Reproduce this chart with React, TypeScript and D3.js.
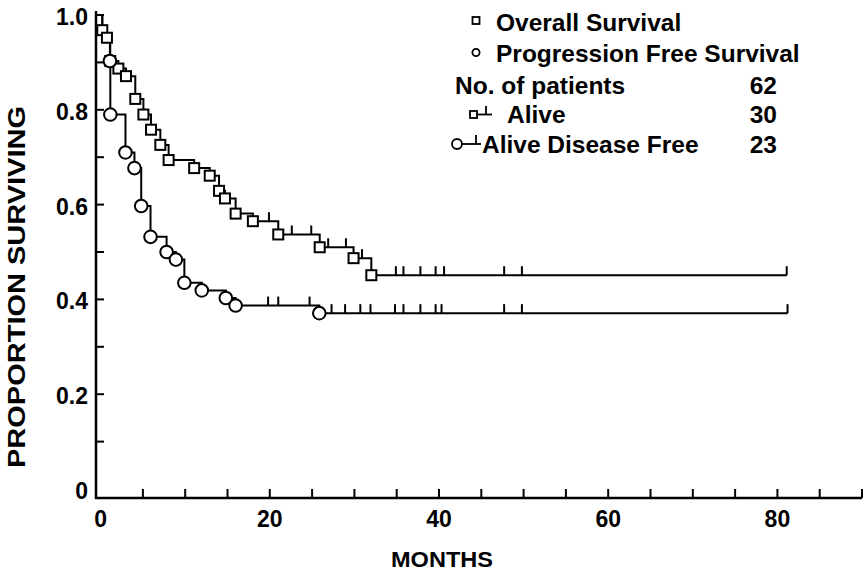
import * as d3 from "d3";

// Kaplan-Meier steps (months, proportion surviving after the step)
const osMonths = [0.2, 0.75, 1.14, 2.1, 3.0, 4.1, 5.06, 5.96, 7.06, 8.04, 11.06, 12.9, 14.0, 14.7, 15.96, 18.0, 21.0, 25.9, 29.9, 32.0];
const osSurvival = [0.968, 0.952, 0.903, 0.887, 0.871, 0.823, 0.79, 0.758, 0.726, 0.694, 0.677, 0.661, 0.629, 0.613, 0.581, 0.565, 0.537, 0.51, 0.487, 0.451];
const osCensored = [19.9, 22.6, 24.9, 26.9, 29.0, 30.9, 34.9, 35.8, 37.8, 39.6, 40.6, 47.7, 49.8, 81.1];

const pfsMonths = [0.2, 0.75, 1.1, 1.15, 2.94, 4.0, 4.8, 5.9, 7.8, 8.9, 9.9, 11.96, 14.8, 15.96, 25.85];
const pfsSurvival = [0.968, 0.952, 0.903, 0.79, 0.71, 0.677, 0.597, 0.532, 0.5, 0.484, 0.435, 0.419, 0.403, 0.387, 0.371];
const pfsMarked = [false, false, true, true, true, true, true, true, true, true, true, true, true, true, true];
const pfsCensored = [19.8, 21.0, 24.7, 27.3, 28.9, 30.7, 31.9, 34.8, 35.8, 37.8, 39.6, 40.3, 47.7, 49.8, 81.2];

const xTickLabels = [0, 20, 40, 60, 80];
const yTickLabels = [0, 0.2, 0.4, 0.6, 0.8, 1.0];

const legendCounts = [
  { label: "No. of patients", n: 62 },
  { label: "Alive", n: 30 },
  { label: "Alive Disease Free", n: 23 },
];

const W = 865;
const H = 574;
const FONT = "'Liberation Sans', Arial, Helvetica, sans-serif";

const x = d3.scaleLinear().domain([0, 90]).range([100.6, 862]);
const y = d3.scaleLinear().domain([0, 1]).range([489, 15]);
const axisY = 498;
const axisX = 96;

// survival value at time t for a step function
function survAt(months: number[], surv: number[], t: number) {
  let s = 1;
  months.forEach((m, i) => {
    if (m <= t) s = surv[i];
  });
  return s;
}

function stepPath(months: number[], surv: number[], end: number) {
  const pts: [number, number][] = [[0, 1]];
  months.forEach((m, i) => pts.push([m, surv[i]]));
  pts.push([end, surv[surv.length - 1]]);
  const line = d3
    .line<[number, number]>()
    .x((d) => x(d[0]))
    .y((d) => y(d[1]))
    .curve(d3.curveStepAfter);
  return line(pts) || "";
}

export default function App() {
  const osEnd = d3.max(osCensored) as number;
  const pfsEnd = d3.max(pfsCensored) as number;
  const sq = 10;

  return (
    <svg
      width={W}
      height={H}
      style={{ position: "absolute", left: 0, top: 0, background: "#fff" }}
      fontFamily={FONT}
      fontWeight="bold"
    >
      {/* axes */}
      <line x1={axisX} x2={axisX} y1={y(1) - 4} y2={axisY + 1} stroke="#000" strokeWidth={2.5} />
      <line x1={axisX - 1} x2={x(90)} y1={axisY} y2={axisY} stroke="#000" strokeWidth={2.5} />
      {d3.range(1, 11).map((i) => (
        <line key={"yt" + i} x1={axisX} x2={axisX + 8} y1={y(i / 10)} y2={y(i / 10)} stroke="#000" strokeWidth={2} />
      ))}
      {d3.range(5, 91, 5).map((m) => (
        <line key={"xt" + m} x1={x(m)} x2={x(m)} y1={axisY} y2={axisY - 9} stroke="#000" strokeWidth={2} />
      ))}
      {yTickLabels.map((v) => (
        <text key={"yl" + v} x={88} y={y(v) + 10} textAnchor="end" fontSize={23}>
          {v === 0 ? "0" : v.toFixed(1)}
        </text>
      ))}
      {xTickLabels.map((m) => (
        <text key={"xl" + m} x={x(m)} y={527} textAnchor="middle" fontSize={23}>
          {m}
        </text>
      ))}
      <text x={442} y={567} textAnchor="middle" fontSize={22} textLength={102} lengthAdjust="spacingAndGlyphs">
        MONTHS
      </text>
      <text
        transform={`translate(25,287) rotate(-90)`}
        textAnchor="middle"
        fontSize={23}
        textLength={362}
        lengthAdjust="spacingAndGlyphs"
      >
        PROPORTION SURVIVING
      </text>

      {/* curves */}
      <path d={stepPath(osMonths, osSurvival, osEnd)} fill="none" stroke="#000" strokeWidth={2} />
      <path d={stepPath(pfsMonths, pfsSurvival, pfsEnd)} fill="none" stroke="#000" strokeWidth={2} />

      {/* censor ticks */}
      {osCensored.map((m, i) => (
        <line key={"oc" + i} x1={x(m)} x2={x(m)} y1={y(survAt(osMonths, osSurvival, m))} y2={y(survAt(osMonths, osSurvival, m)) - 9} stroke="#000" strokeWidth={2} />
      ))}
      {pfsCensored.map((m, i) => (
        <line key={"pc" + i} x1={x(m)} x2={x(m)} y1={y(survAt(pfsMonths, pfsSurvival, m))} y2={y(survAt(pfsMonths, pfsSurvival, m)) - 9} stroke="#000" strokeWidth={2} />
      ))}

      {/* markers */}
      {osMonths.map((m, i) => (
        <rect key={"os" + i} x={x(m) - sq / 2} y={y(osSurvival[i]) - sq / 2} width={sq} height={sq} fill="#fff" stroke="#000" strokeWidth={2} />
      ))}
      {pfsMonths.map((m, i) =>
        pfsMarked[i] ? (
          <circle key={"pf" + i} cx={x(m)} cy={y(pfsSurvival[i])} r={6.3} fill="#fff" stroke="#000" strokeWidth={2} />
        ) : null
      )}

      {/* legend */}
      <rect x={472.5} y={17} width={7} height={7} fill="#fff" stroke="#000" strokeWidth={1.8} />
      <text x={496} y={30.5} fontSize={24.5}>Overall Survival</text>
      <circle cx={476} cy={52.5} r={3.6} fill="#fff" stroke="#000" strokeWidth={1.8} />
      <text x={496} y={62} fontSize={24.5}>Progression Free Survival</text>

      <text x={455} y={94} fontSize={24.5}>{legendCounts[0].label}</text>
      <text x={777} y={94} fontSize={24.5} textAnchor="end">{legendCounts[0].n}</text>

      <rect x={470} y={111} width={7} height={7} fill="#fff" stroke="#000" strokeWidth={1.8} />
      <line x1={477} x2={492} y1={114.5} y2={114.5} stroke="#000" strokeWidth={1.8} />
      <line x1={486} x2={486} y1={114.5} y2={106} stroke="#000" strokeWidth={1.8} />
      <text x={507} y={123} fontSize={24.5}>{legendCounts[1].label}</text>
      <text x={777} y={123} fontSize={24.5} textAnchor="end">{legendCounts[1].n}</text>

      <circle cx={457} cy={144} r={5} fill="#fff" stroke="#000" strokeWidth={1.8} />
      <line x1={462} x2={481} y1={144} y2={144} stroke="#000" strokeWidth={1.8} />
      <line x1={476} x2={476} y1={144} y2={135} stroke="#000" strokeWidth={1.8} />
      <text x={482} y={153} fontSize={24.5}>{legendCounts[2].label}</text>
      <text x={777} y={153} fontSize={24.5} textAnchor="end">{legendCounts[2].n}</text>
    </svg>
  );
}
